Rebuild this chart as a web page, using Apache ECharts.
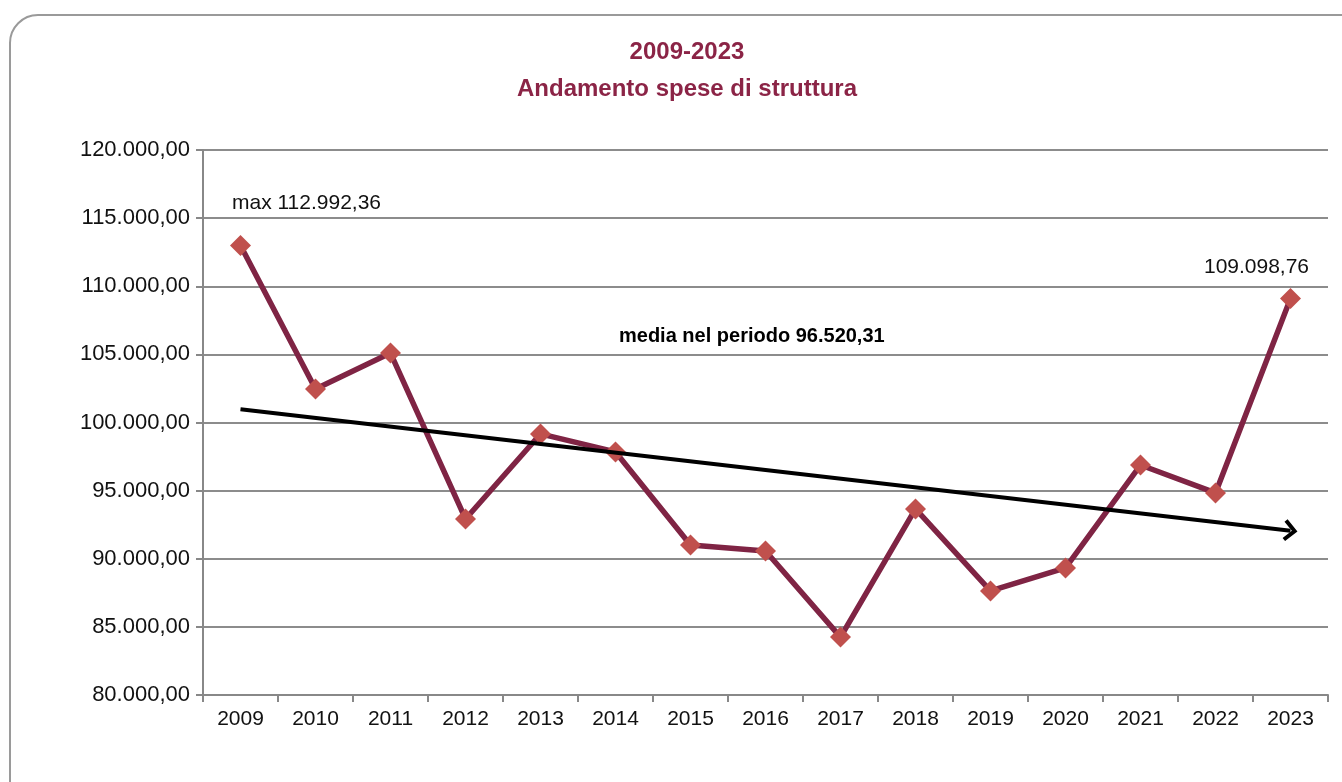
<!DOCTYPE html>
<html><head><meta charset="utf-8">
<script src="https://cdn.jsdelivr.net/npm/echarts@6/dist/echarts.min.js"></script>
<style>html,body{margin:0;padding:0;background:#fff}#c{width:1342px;height:782px}</style>
</head><body><div id="c"></div>
<script>
const years = ['2009','2010','2011','2012','2013','2014','2015','2016','2017','2018','2019','2020','2021','2022','2023'];
const spese = [112992.36,102460,105100,92920,99160,97840,91010,90570,84250,93660,87640,89330,96880,94830,109098.76];
const titleLines = ['2009-2023','Andamento spese di struttura'];
const mediaText = 'media nel periodo 96.520,31';
const yTicks = {min:80000, max:120000, step:5000};

const FONT = '"Liberation Sans Narrow","Arial Narrow","Liberation Sans",Arial,sans-serif';
function fmt(v){
  const p = v.toFixed(2).split('.');
  return p[0].replace(/\B(?=(\d{3})+(?!\d))/g,'.') + ',' + p[1];
}
// linear regression trend
const n = spese.length;
let sx=0,sy=0,sxy=0,sxx=0;
spese.forEach((v,i)=>{sx+=i;sy+=v;sxy+=i*v;sxx+=i*i;});
const slope=(n*sxy-sx*sy)/(n*sxx-sx*sx);
const icpt=(sy-slope*sx)/n;

const data = spese.map((v,i)=>{
  if(i===0) return {value:v,label:{show:true,position:'top',offset:[66,-16],formatter:p=>'max '+fmt(p.value)}};
  if(i===n-1) return {value:v,label:{show:true,position:'top',offset:[-34,-5],formatter:p=>fmt(p.value)}};
  return v;
});

const chart = echarts.init(document.getElementById('c'));
chart.setOption({
  animation:false,
  title:{text:titleLines.join('\n'),left:682,textAlign:'center',top:29,
    textStyle:{color:'#8B2446',fontFamily:FONT,fontWeight:'bold',fontSize:24,lineHeight:37}},
  graphic:[
    {type:'rect',shape:{x:10,y:15,width:1420,height:820,r:28},style:{fill:'none',stroke:'#9a9a9a',lineWidth:2},z:-1},
    {type:'text',left:619,top:326,style:{text:mediaText,fill:'#000',font:'bold 20px '+FONT}}
  ],
  grid:{left:203,right:14,top:150,bottom:87},
  xAxis:{type:'category',data:years,
    axisLine:{lineStyle:{color:'#888',width:2}},
    axisTick:{show:true,length:7,lineStyle:{color:'#888',width:2}},
    axisLabel:{color:'#111',fontFamily:FONT,fontSize:21,margin:14}},
  yAxis:{type:'value',min:yTicks.min,max:yTicks.max,interval:yTicks.step,
    axisLine:{show:true,lineStyle:{color:'#888',width:2}},
    axisTick:{show:true,length:7,lineStyle:{color:'#888',width:2}},
    splitLine:{lineStyle:{color:'#8c8c8c',width:2}},
    axisLabel:{color:'#111',fontFamily:FONT,fontSize:22,margin:13,formatter:v=>fmt(v)}},
  series:[{
    type:'line',data:data,
    symbol:'diamond',symbolSize:21,
    lineStyle:{color:'#7F2444',width:5.5},
    itemStyle:{color:'#C0504D'},
    label:{color:'#111',fontFamily:FONT,fontSize:21},
    markLine:{silent:true,symbol:['none','path://M10,0 L20,10 L17.5,12.5 L10,5 L2.5,12.5 L0,10 Z'],symbolSize:[22,14],
      label:{show:false},
      lineStyle:{color:'#000',width:4,type:'solid'},
      data:[[{coord:[0,icpt]},{coord:[n-1,icpt+slope*(n-1)]}]]}
  }]
});
</script></body></html>
